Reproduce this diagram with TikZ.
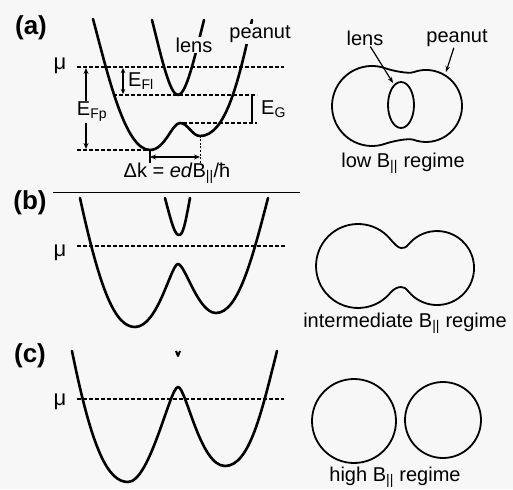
\documentclass[tikz,border=0pt]{standalone}
\usepackage{fontspec}
\setmainfont{Liberation Sans}
\usetikzlibrary{arrows.meta}
\definecolor{bg}{RGB}{247,247,247}
\begin{document}
\begin{tikzpicture}[x=1pt,y=-1pt,
  band/.style={line width=2.6pt, line join=round, line cap=round},
  fs/.style={line width=1.8pt, line join=round},
  lvl/.style={line width=1.2pt, dash pattern=on 4pt off 2pt},
  lbl/.style={font=\fontsize{20}{23}\selectfont, inner sep=1pt},
  tag/.style={font=\fontsize{26}{30}\selectfont\bfseries, inner sep=1pt},
  mulbl/.style={font=\fontsize{22}{26}\selectfont, inner sep=1pt},
  dimarr/.style={line width=1.2pt, {Stealth[length=6pt,width=5pt]}-{Stealth[length=6pt,width=5pt]}},
  smallarr/.style={line width=1.2pt, {Stealth[length=5pt,width=4.5pt]}-{Stealth[length=5pt,width=4.5pt]}},
  ptr/.style={line width=1.2pt, -{Stealth[length=6pt,width=4.5pt]}},
]
\fill[bg] (0,0) rectangle (513,489);
\useasboundingbox (0,0) rectangle (513,489);

% ---------------- panel (a) ----------------
\node[tag] (la) at (31,28) {(a)};
\node[mulbl] (mua) at (60,66) {μ};
\draw[lvl] (77,67) -- (284,67);
\draw[lvl] (113,95) -- (257,95);
\draw[lvl] (183,123) -- (257,123);
\draw[lvl] (77,150) -- (150,150);
\draw[line width=1pt, dash pattern=on 2pt off 1.5pt] (200,136) -- (200,165);
\draw[line width=1.2pt] (252,95) -- (252,123);

% peanut band
\draw[band] (93,19) .. controls (108,75) and (125,150) .. (150,150)
  .. controls (165,150) and (172,123) .. (180,123)
  .. controls (188,123) and (192,136) .. (200,136)
  .. controls (225,136) and (238,85) .. (252,20);
% lens band
\draw[band] (152,20) .. controls (162,60) and (170,95) .. (178,95)
  .. controls (186,95) and (194,60) .. (204,20);

\node[lbl, fill=bg] (lensa) at (194,45) {lens};
\node[lbl, fill=bg] (peanuta) at (260,34) {peanut};

% energies
\draw[dimarr] (86,68) -- (86,149);
\node[lbl, fill=bg] (efp) at (92,112) {E\textsubscript{Fp}};
\draw[smallarr] (123,68) -- (123,94);
\node[lbl, anchor=west] (efl) at (127,81) {E\textsubscript{Fl}};
\node[lbl, anchor=west] (eg) at (260,109) {E\textsubscript{G}};

% Delta k
\draw[dimarr] (150,157) -- (200,157);
\draw[line width=1.4pt] (150,151) -- (150,163);
\node[lbl] (dk) at (177,173) {Δk = \textit{ed}B\textsubscript{||}/ħ};

\draw[line width=1pt] (53,192) -- (300,192);

% Fermi surfaces, low field
\draw[fs] (385.7,68.4) arc[start angle=-70, end angle=-290, radius=40]
  .. controls (391.3,141.6) and (408.1,137.8) .. (413.7,139.8)
  arc[start angle=110, end angle=-110, radius=36]
  .. controls (408.1,74.2) and (391.3,70.4) .. (385.7,68.4) -- cycle;
\draw[fs] (401,105) ellipse[x radius=13, y radius=23];
\node[lbl] (lensb) at (365,38) {lens};
\node[lbl] (peanutb) at (457,38) {peanut};
\coordinate (lensend) at (393,83);
\coordinate (peanutend) at (446,72);
\draw[ptr] (lensb) -- (lensend);
\draw[ptr] (peanutb) -- (peanutend);
\node[lbl] (lowa) at (403,163) {low B\textsubscript{||} regime};

% ---------------- panel (b) ----------------
\node[tag] (lb) at (30,203) {(b)};
\node[mulbl] (mub) at (60,253) {μ};
\draw[lvl] (77,246) -- (285,246);
\draw[band] (80,198) .. controls (100,290) and (115,327) .. (135,327)
  .. controls (158,327) and (171,264) .. (178,264)
  .. controls (185,264) and (198,313) .. (216,313)
  .. controls (238,313) and (252,260) .. (268,198);
\draw[band] (165,198) .. controls (172,225) and (175,235) .. (179,235)
  .. controls (183,235) and (185,225) .. (190,198);

\draw[fs] (390.2,239) arc[start angle=-40, end angle=-320, radius=42]
  .. controls (394,288.5) and (398,287) .. (401,287)
  .. controls (404,287) and (405.5,288) .. (408.7,291.8)
  arc[start angle=140, end angle=-140, radius=37]
  .. controls (405.5,248) and (404,248) .. (401,248)
  .. controls (398,248) and (393.4,242.8) .. (390.2,239) -- cycle;
\node[lbl] (intb) at (405,323) {intermediate B\textsubscript{||} regime};

% ---------------- panel (c) ----------------
\node[tag] (lc) at (30,356) {(c)};
\node[mulbl] (muc) at (60,402) {μ};
\draw[lvl] (77,399) -- (284,399);
\draw[band] (72,351) .. controls (92,450) and (108,482) .. (128,482)
  .. controls (150,482) and (170,387) .. (178,387)
  .. controls (186,387) and (200,466) .. (225,466)
  .. controls (250,466) and (262,410) .. (277,351);
\draw[line width=2pt, line join=round] (176,351) -- (178,356) -- (180,351);

\draw[fs] (354,421) circle[radius=42];
\draw[fs] (443,420) circle[radius=38];
\node[lbl] (highc) at (395,477) {high B\textsubscript{||} regime};
\end{tikzpicture}
\end{document}
